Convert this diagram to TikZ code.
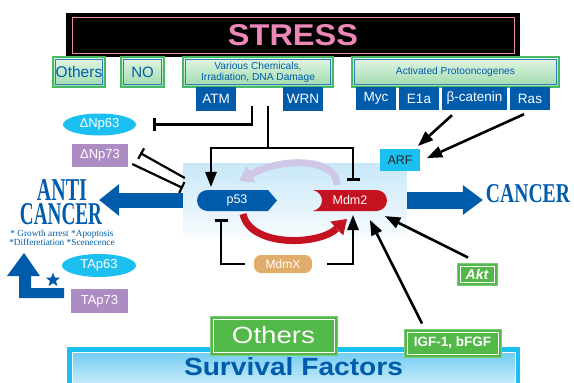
\documentclass[tikz,border=0pt]{standalone}
\usepackage{fontspec}
\setmainfont{Liberation Sans}
\newfontfamily\serifnt{Liberation Serif}
\usepackage{graphicx}
\usetikzlibrary{arrows.meta,shapes.geometric}
\definecolor{dkblue}{RGB}{0,92,170}
\definecolor{cyanb}{RGB}{28,192,240}
\definecolor{purp}{RGB}{172,140,194}
\definecolor{grn}{RGB}{82,184,72}
\definecolor{redm}{RGB}{196,18,32}
\definecolor{orng}{RGB}{226,172,106}
\definecolor{lav}{RGB}{208,198,230}
\definecolor{pinkt}{RGB}{236,136,184}
\definecolor{ltgrn}{RGB}{228,246,230}
\definecolor{mdgrn}{RGB}{158,218,172}
\definecolor{edgegrn}{RGB}{70,186,100}
\definecolor{bgblue}{RGB}{200,232,248}
\definecolor{survtop}{RGB}{100,200,242}
\definecolor{survbot}{RGB}{225,244,252}
\newcommand\fsz[1]{\fontsize{#1}{#1}\selectfont}
\tikzset{
	lbl/.style={inner sep=0pt,text=white},
	stressbox/.style={lbl,fill=black,minimum width=454pt,minimum height=44pt,text=pinkt,
		path picture={\draw[pinkt,line width=0.8pt]([shift={(6pt,-4pt)}]path picture bounding box.north west)rectangle([shift={(-6pt,4pt)}]path picture bounding box.south east);}},
	gbox/.style={lbl,draw=edgegrn,line width=1.4pt,top color=ltgrn,bottom color=mdgrn,text=dkblue,minimum height=30pt,
		path picture={\draw[dkblue!80,line width=0.7pt]([shift={(2.5pt,-2.5pt)}]path picture bounding box.north west)rectangle([shift={(-2.5pt,2.5pt)}]path picture bounding box.south east);}},
	grnbox/.style={lbl,fill=grn,draw=grn!75!white,line width=1pt,
		path picture={\draw[white,line width=0.9pt]([shift={(3pt,-3pt)}]path picture bounding box.north west)rectangle([shift={(-3pt,3pt)}]path picture bounding box.south east);}},
	survbox/.style={lbl,fill=cyanb,minimum width=453pt,minimum height=46pt,
		path picture={\shade[top color=survtop,bottom color=survbot]([shift={(5pt,-5pt)}]path picture bounding box.north west)rectangle([shift={(-5pt,5pt)}]path picture bounding box.south east);
		\draw[white,line width=1pt]([shift={(5pt,-5pt)}]path picture bounding box.north west)rectangle([shift={(-5pt,5pt)}]path picture bounding box.south east);}},
	bluebox/.style={lbl,fill=dkblue,minimum width=40pt,minimum height=23pt,font=\fsz{13.5}},
	oval/.style={lbl,ellipse,fill=cyanb,minimum width=73pt,minimum height=22pt,font=\fsz{13}},
	pbox/.style={lbl,fill=purp,minimum width=56pt,minimum height=23pt,font=\fsz{13}},
	ln/.style={line width=2.6pt},
	act/.style={ln,-{Triangle[length=15pt,width=12pt,line width=0pt]}},
	inh/.style={ln,-{Bar[width=13pt]}},
	bigarr/.style={dkblue,-{Triangle[length=20pt,width=32pt,line width=0pt]}},
	curv/.style={line width=7pt,-{Triangle[length=14pt,width=19pt,line width=0pt]}}
}
\begin{document}
\begin{tikzpicture}[x=1pt,y=-1pt]
	\useasboundingbox(0,0)rectangle(574,383);
	\node[stressbox](stress)at(293,35){\resizebox{130pt}{21pt}{\bfseries STRESS}};
	\node[gbox,minimum width=52pt,font=\fsz{15.5}](oth1)at(79,72){Others};
	\node[gbox,minimum width=43pt,font=\fsz{15}](no)at(142.5,72){NO};
	\node[gbox,minimum width=150pt,align=center,font=\fontsize{10.2}{11}\selectfont](chem)at(258,72){Various Chemicals,\\Irradiation, DNA Damage};
	\node[gbox,minimum width=207pt,font=\fsz{10.2}](proto)at(455.5,72){Activated Protooncogenes};
	\node[bluebox,minimum height=24pt](atm)at(216,99){ATM};
	\node[bluebox,minimum height=24pt](wrn)at(303,99){WRN};
	\node[bluebox](myc)at(376,98.5){Myc};
	\node[bluebox](e1a)at(419,98.5){E1a};
	\node[bluebox,minimum width=65pt](bcat)at(474.5,98.5){β-catenin};
	\node[bluebox](ras)at(530,98.5){Ras};
	\node[lbl,minimum width=224pt,minimum height=74pt,top color=bgblue,bottom color=bgblue!15!white](bg)at(295,200){};
	\node[oval](dnp63)at(99.5,124.5){ΔNp63};
	\node[pbox](dnp73)at(100,155.5){ΔNp73};
	\node[oval,minimum width=74pt,minimum height=23pt](tap63)at(99,265.5){TAp63};
	\node[pbox,minimum width=57pt,minimum height=24pt](tap73)at(99.5,301){TAp73};
	\node[lbl,fill=cyanb,minimum width=40pt,minimum height=22pt,text=black!85,font=\fsz{12.5}](arf)at(400,160){ARF};
	\node[lbl,fill=orng,rounded corners=7pt,minimum width=58pt,minimum height=18pt,font=\fsz{12}](mdmx)at(283,264){MdmX};
	\draw[curv,lav](337,185)..controls(337,158)and(282,157)..(239,181);
	\draw[curv,redm](243,214)..controls(250,247)and(318,246)..(347,219);
	\fill[dkblue](207.5,200.5)circle(10.5);
	\fill[dkblue](207.5,190)--(268,190)--(277,200.5)--(268,211)--(207.5,211)--cycle;
	\fill[redm](376.5,200.5)circle(10.5);
	\fill[redm](376.5,190)--(313,190)..controls(325,193)and(325,208)..(313,211)--(376.5,211)--cycle;
	\node[lbl,minimum width=80pt,minimum height=21pt,font=\fsz{12.5}](p53)at(237,200.5){p53};
	\node[lbl,minimum width=74pt,minimum height=21pt,font=\fsz{12.5}](mdm2)at(350,200.5){Mdm2};
	\node[lbl,text=dkblue](anti)at(62,190){\resizebox{50pt}{21pt}{\serifnt\bfseries ANTI}};
	\node[lbl,text=dkblue](cancerL)at(61,214){\resizebox{82pt}{21pt}{\serifnt\bfseries CANCER}};
	\node[lbl,text=dkblue,align=center,font=\serifnt\fontsize{9.3}{9}\selectfont](notes)at(62,237.5){* Growth arrest *Apoptosis\\*Differetiation *Scenecence};
	\node[lbl,text=dkblue](cancerR)at(528,194){\resizebox{84pt}{18pt}{\serifnt\bfseries CANCER}};
	\node[survbox](surv)at(293.5,370){};
	\node[lbl,text=dkblue](survlbl)at(293.5,367){\resizebox{219pt}{18pt}{\bfseries Survival Factors}};
	\node[grnbox,minimum width=127pt,minimum height=39pt](oth2)at(273.5,335.5){\resizebox{83pt}{17pt}{Others}};
	\node[grnbox,minimum width=97pt,minimum height=28pt,font=\bfseries\fsz{13.5}](igf)at(452.5,343){IGF-1, bFGF};
	\node[grnbox,minimum width=40pt,minimum height=22pt,font=\bfseries\itshape\fsz{14}](akt)at(477,274){Akt};
	\fill[dkblue](7,276)--(24,253)--(40,276)--(31,276)--(31,288)--(64,288)--(64,298)--(19,298)--(19,276)--cycle;
	\node[star,star points=5,star point ratio=2.4,fill=dkblue,minimum size=15pt,inner sep=0pt](st)at(53,280){};
	\coordinate(s1)at(252,106);
	\coordinate(s2)at(268,106);
	\coordinate(jn)at(268,148);
	\draw[inh](s1)|-([xshift=17pt]dnp63.east);
	\draw[ln](s2)--(jn);
	\draw[act,shorten >=3pt](jn)-|([xshift=-26pt]p53.north);
	\draw[inh,shorten >=9pt](jn)-|([xshift=3pt]mdm2.north);
	\draw[inh,shorten >=8pt]([xshift=-9pt]mdmx.west)-|([xshift=-16pt]p53.south);
	\draw[act,shorten >=4pt]([xshift=15pt]mdmx.east)-|([xshift=3pt]mdm2.south);
	\draw[{Bar[width=12pt]}-,line width=2.2pt]([xshift=12pt,yshift=2.5pt]dnp73.east)--([xshift=2pt,yshift=22pt]bg.west);
	\draw[-{Bar[width=12pt]},line width=2.2pt]([xshift=4pt,yshift=-8.5pt]dnp73.east)--([yshift=12pt]bg.west);
	\draw[act]([xshift=-22.5pt,yshift=-5pt]bcat.south)--([xshift=-2pt,yshift=3pt]arf.north east);
	\draw[act]([xshift=-6pt,yshift=-4pt]ras.south)--([xshift=7pt,yshift=2pt]arf.east);
	\draw[act]([xshift=-9pt,yshift=5pt]akt.north)--([xshift=-2pt,yshift=-5pt]mdm2.south east);
	\draw[act]([xshift=-30.5pt,yshift=5pt]igf.north)--([xshift=20pt,yshift=-9pt]mdm2.south);
	\draw[bigarr,line width=15pt,shorten >=-3pt](bg.west)--(bg.west-|cancerL.east);
	\draw[bigarr,line width=17pt,-{Triangle[length=20pt,width=30pt,line width=0pt]},shorten >=3pt](bg.east)--(bg.east-|cancerR.west);
\end{tikzpicture}
\end{document}
